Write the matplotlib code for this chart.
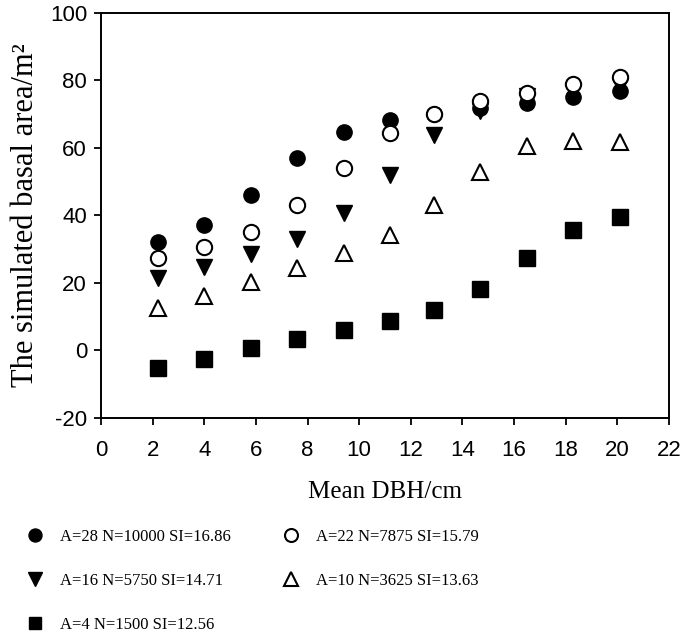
import matplotlib.pyplot as plt

dbh = [2.2, 4.0, 5.8, 7.6, 9.4, 11.2, 12.9, 14.7, 16.5, 18.3, 20.1]

a28 = [32.1, 37.2, 46.1, 57.0, 64.7, 68.3, 70.0, 71.9, 73.3, 75.1, 76.8]
a22 = [27.4, 30.7, 35.1, 43.1, 54.1, 64.4, 70.1, 73.9, 76.3, 79.0, 81.0]
a16 = [21.5, 24.6, 28.6, 33.0, 40.6, 52.0, 63.9, 71.0, 75.5, 77.0, 78.3]
a10 = [12.6, 16.1, 20.3, 24.4, 28.9, 34.2, 43.1, 52.9, 60.6, 62.1, 61.8]
a4 = [-5.2, -2.5, 0.7, 3.4, 6.1, 8.7, 12.0, 18.2, 27.4, 35.7, 39.6]

labels = ["A=28 N=10000 SI=16.86", "A=16 N=5750 SI=14.71", "A=4 N=1500 SI=12.56",
          "A=22 N=7875 SI=15.79", "A=10 N=3625 SI=13.63"]

serif = "Liberation Serif"
sans = "Liberation Sans"
plt.rcParams["axes.unicode_minus"] = False

fig = plt.figure(figsize=(6.85, 6.34), dpi=100)
ax = fig.add_axes([0.1474, 0.3407, 0.8292, 0.6388])

ms = 11
h1, = ax.plot(dbh, a28, "o", color="black", ms=ms, label=labels[0])
h2, = ax.plot(dbh, a16, "v", color="black", ms=ms + 1, label=labels[1])
h3, = ax.plot(dbh, a4, "s", color="black", ms=ms, label=labels[2])
h5, = ax.plot(dbh, a10, "^", mfc="white", mec="black", mew=1.5, ms=ms + 1, label=labels[4])
h4, = ax.plot(dbh, a22, "o", mfc="white", mec="black", mew=1.5, ms=ms, label=labels[3])

ax.set_xlim(0, 22)
ax.set_ylim(-20, 100)
ax.set_xticks(range(0, 23, 2))
ax.set_yticks(range(-20, 101, 20))
for lab in ax.get_xticklabels() + ax.get_yticklabels():
    lab.set_fontfamily(sans)
    lab.set_fontsize(16)
ax.tick_params(direction="out", length=5, width=1.3, top=False, right=False)
ax.tick_params(axis="x", pad=11)
ax.tick_params(axis="y", pad=5)
for sp in ax.spines.values():
    sp.set_linewidth(1.4)

ax.set_xlabel("Mean DBH/cm", family=serif, fontsize=18, labelpad=14)
ax.set_ylabel("The simulated basal area/m²", family=serif, fontsize=22, labelpad=7)

fig.legend(handles=[h1, h2, h3, h4, h5], ncol=2, frameon=False,
           loc="upper left", bbox_to_anchor=(0.017, 0.19),
           prop={"family": serif, "size": 12}, handlelength=1.0, handletextpad=1.0,
           labelspacing=1.7, columnspacing=3.1, markerscale=0.85)

fig.savefig("out.png", dpi=100)
